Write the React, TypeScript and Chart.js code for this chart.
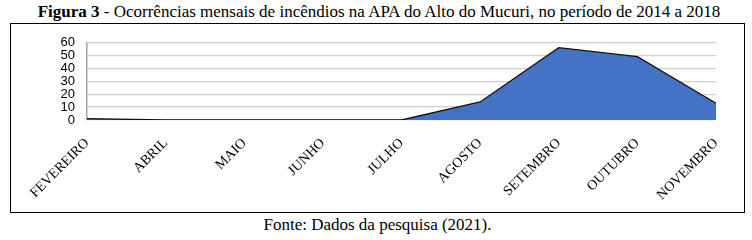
import React, { useEffect, useRef } from "react";
import { Chart, registerables } from "chart.js";

Chart.register(...registerables);

const categories = ["FEVEREIRO", "ABRIL", "MAIO", "JUNHO", "JULHO", "AGOSTO", "SETEMBRO", "OUTUBRO", "NOVEMBRO"];
const occurrences = [1, 0, 0, 0, 0, 14, 56, 49, 13];
const yTicks = [0, 10, 20, 30, 40, 50, 60];

const titleBold = "Figura 3";
const titleRest = " - Ocorrências mensais de incêndios na APA do Alto do Mucuri, no período de 2014 a 2018";
const sourceText = "Fonte: Dados da pesquisa (2021).";

if (typeof document !== "undefined") {
  document.body.style.margin = "0";
}

export default function App() {
  const canvasRef = useRef<HTMLCanvasElement | null>(null);

  useEffect(() => {
    const canvas = canvasRef.current;
    if (!canvas) return;
    const chart = new Chart(canvas, {
      type: "line",
      data: {
        labels: categories,
        datasets: [
          {
            data: occurrences,
            borderColor: "#111111",
            borderWidth: 1.3,
            backgroundColor: "#4472C4",
            fill: "origin",
            pointRadius: 0,
            tension: 0,
          },
        ],
      },
      options: {
        animation: false,
        responsive: false,
        maintainAspectRatio: false,
        layout: { padding: { top: 16, right: 28, left: 0, bottom: 0 } },
        plugins: { legend: { display: false }, tooltip: { enabled: false }, title: { display: false } },
        scales: {
          x: {
            type: "category",
            offset: false,
            grid: { display: false, drawTicks: false },
            border: { display: false },
            ticks: {
              autoSkip: false,
              maxRotation: 45,
              minRotation: 45,
              padding: 15,
              color: "#000",
              font: { family: "'Liberation Serif'", size: 14 },
            },
            afterFit: (s: any) => {
              s.height = 92;
            },
          },
          y: {
            min: 0,
            max: 60,
            afterBuildTicks: (s: any) => {
              s.ticks = yTicks.map((v) => ({ value: v }));
            },
            grid: { color: "#d0d0d0", lineWidth: 1.3, drawTicks: false },
            border: { display: true, color: "#a6a6a6", width: 1.5 },
            ticks: {
              autoSkip: false,
              padding: 12,
              color: "#000",
              font: { family: "'Liberation Sans'", size: 13, lineHeight: 1 },
            },
            afterFit: (s: any) => {
              s.width = 76;
            },
          },
        },
      },
    });
    return () => chart.destroy();
  }, []);

  return (
    <div style={{ position: "relative", width: 752, height: 240, background: "#fff", fontFamily: "'Liberation Serif'" }}>
      <div
        style={{
          position: "absolute",
          left: 0,
          top: 2,
          width: 758,
          textAlign: "center",
          fontSize: 17,
          lineHeight: "19px",
          color: "#000",
          whiteSpace: "nowrap",
        }}
      >
        <b>{titleBold}</b>
        {titleRest}
      </div>
      <div
        style={{
          position: "absolute",
          left: 10,
          top: 23,
          width: 735,
          height: 190,
          border: "1px solid #000",
          boxSizing: "border-box",
        }}
      >
        <canvas ref={canvasRef} width={733} height={188} style={{ display: "block", width: 733, height: 188 }} />
      </div>
      <div
        style={{
          position: "absolute",
          left: 0,
          top: 215,
          width: 755,
          textAlign: "center",
          fontSize: 17,
          lineHeight: "19px",
          color: "#000",
        }}
      >
        {sourceText}
      </div>
    </div>
  );
}
